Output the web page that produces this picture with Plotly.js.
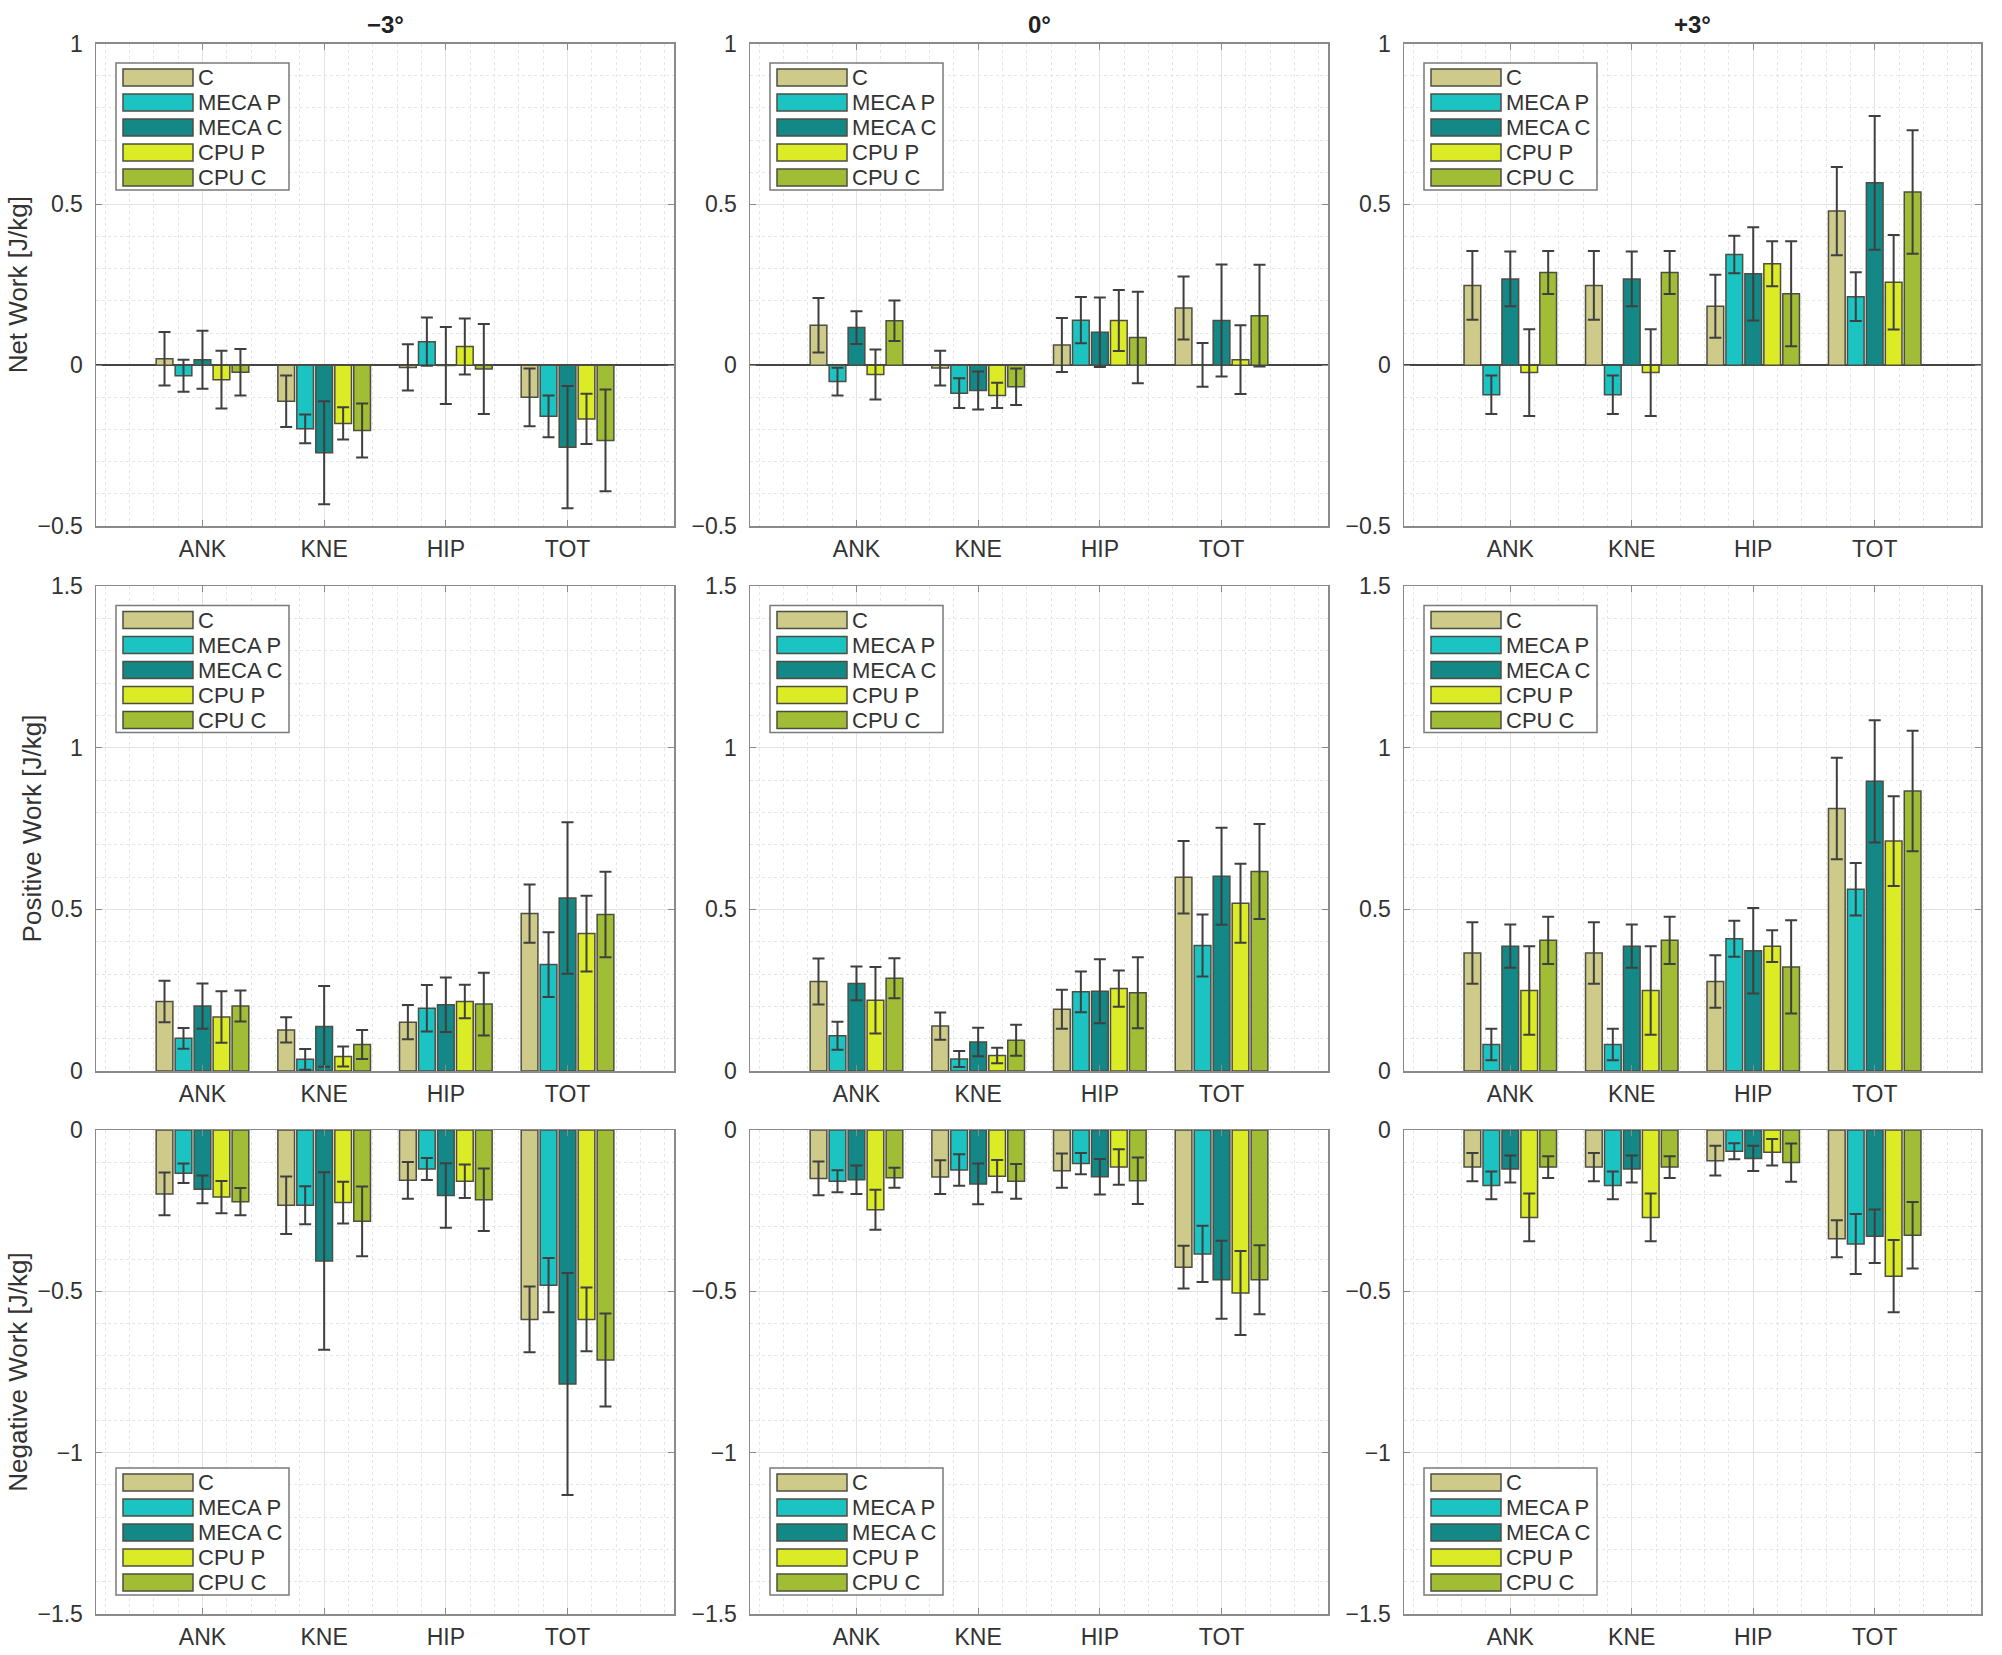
<!DOCTYPE html>
<html>
<head>
<meta charset="utf-8">
<script src="https://cdn.plot.ly/plotly-3.0.1.min.js"></script>
<style>
  html, body { margin: 0; padding: 0; background: #fff; }
  #chart { width: 2002px; height: 1655px; }
</style>
</head>
<body>
<div id="chart"></div>
<script>
// categories and series
const joints = ["ANK", "KNE", "HIP", "TOT"];
const groups = ["C", "MECA P", "MECA C", "CPU P", "CPU C"];
const slopes = ["\u22123°", "0°", "+3°"];
const rowTitles = ["Net Work [J/kg]", "Positive Work [J/kg]", "Negative Work [J/kg]"];
const colors = ["#cdca8a", "#1cc3c3", "#148787", "#dbeb25", "#a0bd35"];

// rows: one array per group (C, MECA P, MECA C, CPU P, CPU C), values per joint
const netMeanM3 = [[0.02, -0.112, -0.007, -0.10], [-0.033, -0.198, 0.073, -0.159], [0.017, -0.272, -0.001, -0.255], [-0.045, -0.181, 0.058, -0.167], [-0.022, -0.203, -0.012, -0.234]];
const netSdM3 = [[0.083, 0.08, 0.072, 0.09], [0.05, 0.045, 0.075, 0.065], [0.09, 0.16, 0.12, 0.19], [0.09, 0.05, 0.087, 0.078], [0.072, 0.084, 0.14, 0.158]];
const netMean0 = [[0.124, -0.009, 0.063, 0.178], [-0.051, -0.087, 0.14, 0.001], [0.117, -0.079, 0.102, 0.139], [-0.029, -0.094, 0.139, 0.017], [0.138, -0.067, 0.086, 0.154]];
const netSd0 = [[0.085, 0.054, 0.084, 0.098], [0.043, 0.046, 0.072, 0.068], [0.051, 0.059, 0.108, 0.174], [0.078, 0.039, 0.095, 0.107], [0.063, 0.057, 0.142, 0.158]];
const netMeanP3 = [[0.248, 0.248, 0.183, 0.479], [-0.092, -0.092, 0.344, 0.213], [0.268, 0.268, 0.284, 0.567], [-0.023, -0.023, 0.315, 0.258], [0.288, 0.288, 0.222, 0.538]];
const netSdP3 = [[0.107, 0.107, 0.098, 0.137], [0.06, 0.06, 0.058, 0.076], [0.085, 0.085, 0.145, 0.208], [0.135, 0.135, 0.07, 0.147], [0.067, 0.067, 0.163, 0.192]];

const posMeanM3 = [[0.215, 0.127, 0.151, 0.487], [0.101, 0.036, 0.194, 0.329], [0.201, 0.138, 0.205, 0.535], [0.167, 0.045, 0.215, 0.425], [0.201, 0.082, 0.207, 0.484]];
const posSdM3 = [[0.064, 0.039, 0.053, 0.09], [0.032, 0.032, 0.072, 0.1], [0.07, 0.125, 0.084, 0.234], [0.08, 0.031, 0.052, 0.117], [0.048, 0.045, 0.097, 0.132]];
const posMean0 = [[0.277, 0.139, 0.191, 0.599], [0.109, 0.037, 0.245, 0.388], [0.271, 0.09, 0.247, 0.602], [0.219, 0.048, 0.255, 0.519], [0.287, 0.095, 0.242, 0.617]];
const posSd0 = [[0.071, 0.042, 0.06, 0.112], [0.043, 0.025, 0.063, 0.096], [0.052, 0.044, 0.099, 0.15], [0.103, 0.024, 0.056, 0.122], [0.062, 0.048, 0.11, 0.147]];
const posMeanP3 = [[0.365, 0.365, 0.277, 0.812], [0.082, 0.082, 0.409, 0.562], [0.386, 0.386, 0.372, 0.896], [0.249, 0.249, 0.386, 0.711], [0.404, 0.404, 0.322, 0.866]];
const posSdP3 = [[0.095, 0.095, 0.081, 0.157], [0.049, 0.049, 0.056, 0.081], [0.067, 0.067, 0.132, 0.189], [0.137, 0.137, 0.049, 0.139], [0.073, 0.073, 0.144, 0.186]];

const negMeanM3 = [[-0.198, -0.233, -0.156, -0.587], [-0.134, -0.233, -0.121, -0.481], [-0.184, -0.406, -0.203, -0.787], [-0.208, -0.225, -0.159, -0.587], [-0.222, -0.283, -0.216, -0.713]];
const negSdM3 = [[0.066, 0.089, 0.057, 0.102], [0.03, 0.059, 0.034, 0.084], [0.043, 0.275, 0.1, 0.344], [0.05, 0.065, 0.052, 0.099], [0.042, 0.108, 0.097, 0.144]];
const negMean0 = [[-0.15, -0.146, -0.126, -0.425], [-0.159, -0.124, -0.104, -0.384], [-0.154, -0.167, -0.145, -0.464], [-0.247, -0.143, -0.115, -0.505], [-0.148, -0.159, -0.157, -0.464]];
const negSd0 = [[0.052, 0.052, 0.053, 0.066], [0.034, 0.049, 0.033, 0.087], [0.044, 0.063, 0.055, 0.121], [0.062, 0.05, 0.055, 0.13], [0.031, 0.054, 0.072, 0.107]];
const negMeanP3 = [[-0.115, -0.115, -0.095, -0.337], [-0.172, -0.172, -0.066, -0.353], [-0.121, -0.121, -0.088, -0.329], [-0.271, -0.271, -0.069, -0.453], [-0.115, -0.115, -0.101, -0.326]];
const negSdP3 = [[0.044, 0.044, 0.046, 0.057], [0.043, 0.043, 0.025, 0.093], [0.042, 0.042, 0.039, 0.083], [0.074, 0.074, 0.041, 0.112], [0.034, 0.034, 0.059, 0.103]];

const panels = [
    [netMeanM3, netSdM3], [netMean0, netSd0], [netMeanP3, netSdP3],
    [posMeanM3, posSdM3], [posMean0, posSd0], [posMeanP3, posSdP3],
    [negMeanM3, negSdM3], [negMean0, negSd0], [negMeanP3, negSdP3],
];
const yRanges = [[-0.5, 1], [0, 1.5], [-1.5, 0]];

// figure geometry (px)
const W = 2002, H = 1655;
const colPx = [[96, 674], [750, 1328], [1404, 1981]];
const rowPx = [[43.5, 526], [586, 1071], [1130, 1614]];

const font = "Liberation Sans, Arial, Helvetica, sans-serif";
const textColor = "#333333";
const axisColor = "#8a8a8a";

let data = [];
let layout = {
    width: W,
    height: H,
    margin: { l: 0, r: 0, t: 0, b: 0 },
    paper_bgcolor: "white",
    plot_bgcolor: "white",
    barmode: "group",
    bargap: 0.22,
    bargroupgap: 0.12,
    showlegend: false,
    font: { family: font, color: textColor },
    shapes: [],
    annotations: [],
};

panels.forEach((panel, p) => {
    const r = Math.floor(p / 3), c = p % 3;
    const n = p === 0 ? "" : String(p + 1);
    const [means, sds] = panel;

    groups.forEach((g, i) => {
        data.push({
            type: "bar",
            name: g,
            x: joints.map((_, j) => j),
            y: means[i],
            error_y: { type: "data", array: sds[i], visible: true, color: "#3f3f3f", thickness: 2, width: 6 },
            marker: { color: colors[i], line: { color: "#4d4d42", width: 1.5 } },
            xaxis: "x" + n,
            yaxis: "y" + n,
            hoverinfo: "skip",
        });
    });

    const xd = [colPx[c][0] / W, colPx[c][1] / W];
    const yd = [1 - rowPx[r][1] / H, 1 - rowPx[r][0] / H];

    layout["xaxis" + n] = {
        domain: xd,
        anchor: "y" + n,
        range: [-0.875, 3.875],
        tickvals: joints.map((_, j) => j),
        ticktext: joints,
        tickfont: { size: 23, color: textColor, family: font },
        ticks: "inside",
        ticklen: 6,
        tickcolor: axisColor,
        ticklabelstandoff: 2,
        showline: true,
        linecolor: axisColor,
        linewidth: 1.5,
        mirror: "ticks",
        showgrid: true,
        gridcolor: "#e3e3e3",
        zeroline: false,
        minor: { dtick: 0.2, showgrid: true, gridcolor: "#e6e6e6", griddash: "dot", gridwidth: 1 },
        fixedrange: true,
    };
    layout["yaxis" + n] = {
        domain: yd,
        anchor: "x" + n,
        range: yRanges[r],
        tick0: 0,
        dtick: 0.5,
        tickfont: { size: 23, color: textColor, family: font },
        ticks: "inside",
        ticklen: 6,
        tickcolor: axisColor,
        ticklabelstandoff: 7,
        showline: true,
        linecolor: axisColor,
        linewidth: 1.5,
        mirror: "ticks",
        showgrid: true,
        gridcolor: "#e3e3e3",
        zeroline: r === 0,
        zerolinecolor: "#444444",
        zerolinewidth: 1.5,
        minor: { dtick: 0.1, showgrid: true, gridcolor: "#e6e6e6", griddash: "dot", gridwidth: 1 },
        fixedrange: true,
    };
    if (c === 0) {
        layout["yaxis" + n].title = {
            text: rowTitles[r],
            font: { size: 26, color: textColor, family: font },
            standoff: 2,
        };
    }

    // column titles
    if (r === 0) {
        layout.annotations.push({
            text: slopes[c],
            xref: "x" + n + " domain", yref: "y" + n + " domain",
            x: 0.5, y: 1, xanchor: "center", yanchor: "bottom", yshift: 4,
            showarrow: false,
            font: { size: 24, color: "#222", family: font, weight: "bold" },
        });
    }

    // legend box drawn per panel (top-left, bottom-left on the last row)
    const pw = colPx[c][1] - colPx[c][0];
    const ph = rowPx[r][1] - rowPx[r][0];
    const boxH = 127;
    const boxTop = r === 2 ? ph - 19 - boxH : 19.5;
    const dx = (px) => px / pw;
    const dy = (px) => 1 - px / ph;
    const xr = "x" + n + " domain", yr = "y" + n + " domain";
    layout.shapes.push({
        type: "rect", xref: xr, yref: yr,
        x0: dx(20), x1: dx(193), y0: dy(boxTop + boxH), y1: dy(boxTop),
        fillcolor: "white", line: { color: "#7a7a7a", width: 1.5 }, layer: "above",
    });
    groups.forEach((g, i) => {
        const cy = boxTop + 14.5 + 25 * i;
        layout.shapes.push({
            type: "rect", xref: xr, yref: yr,
            x0: dx(27), x1: dx(97), y0: dy(cy + 8.5), y1: dy(cy - 8.5),
            fillcolor: colors[i], line: { color: "#4d4d42", width: 1.5 }, layer: "above",
        });
        layout.annotations.push({
            text: g, xref: xr, yref: yr,
            x: dx(100), y: dy(cy), xanchor: "left", yanchor: "middle",
            showarrow: false,
            font: { size: 22, color: textColor, family: font },
        });
    });
});

Plotly.newPlot("chart", data, layout, { displayModeBar: false, staticPlot: true });
</script>
</body>
</html>
